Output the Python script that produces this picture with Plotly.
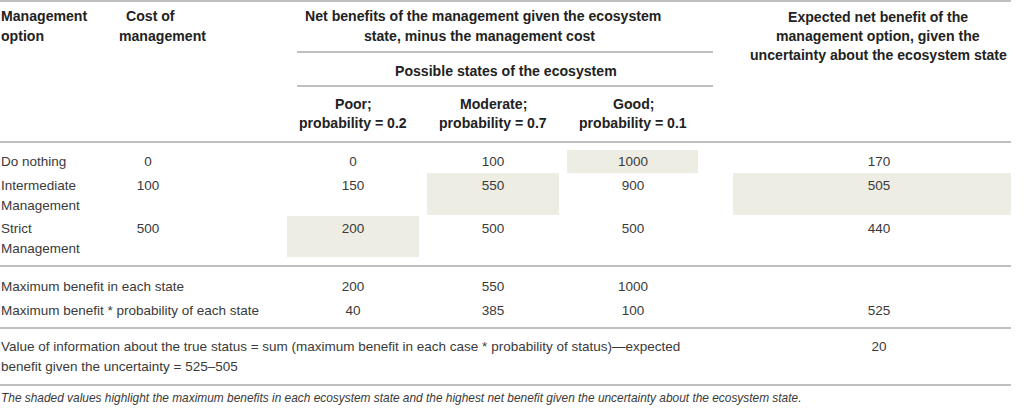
import plotly.graph_objects as go

# %% table values
option_lines = [["Do nothing"], ["Intermediate", "Management"], ["Strict", "Management"]]
cost = [0, 100, 500]
poor = [0, 150, 200]
moderate = [100, 550, 500]
good = [1000, 900, 500]
expected = [170, 505, 440]
max_benefit = [200, 550, 1000]
max_weighted = [40, 385, 100]
max_weighted_total = 525
value_of_info = 20
state_names = ["Poor;", "Moderate;", "Good;"]
state_probs = ["probability = 0.2", "probability = 0.7", "probability = 0.1"]
# shaded cells: (row, column)
highlight = [(0, "good"), (1, "moderate"), (1, "expected"), (2, "poor")]

# %% layout (pixel grid)
W, H = 1023, 408
RIGHT = 1011
col_x = {"cost": 148, "poor": 353, "moderate": 493, "good": 633, "expected": 879}
shade_x = {"poor": (287, 419), "moderate": (427, 559), "good": (567, 698), "expected": (733, 1011)}
row_y = [161, 185, 228]
row_box = [(150, 173), (173, 215), (216, 257)]
FONT = "Liberation Sans, Arial, sans-serif"
TXT = "#3a3a3a"
HDR = "#222222"
LINE = "#aaaaaa"
SHADE = "#edede3"
FS = 13.5
FSB = 14.1
DY = 2  # scatter text sits a bit higher than annotations

fig = go.Figure()

def cells(xs, ys, vals):
    fig.add_trace(go.Scatter(x=xs, y=[y + DY for y in ys], text=[str(v) for v in vals], mode="text",
                             textposition="middle center",
                             textfont=dict(family=FONT, size=FS, color=TXT),
                             hoverinfo="skip", showlegend=False))

cells([col_x["cost"]] * 3, row_y, cost)
cells([col_x["poor"]] * 3, row_y, poor)
cells([col_x["moderate"]] * 3, row_y, moderate)
cells([col_x["good"]] * 3, row_y, good)
cells([col_x["expected"]] * 3, row_y, expected)
cells([col_x["poor"], col_x["moderate"], col_x["good"]], [286] * 3, max_benefit)
cells([col_x["poor"], col_x["moderate"], col_x["good"], col_x["expected"]], [310] * 4,
      max_weighted + [max_weighted_total])
cells([col_x["expected"]], [346], [value_of_info])

shapes = []
for r, c in highlight:
    x0, x1 = shade_x[c]
    y0, y1 = row_box[r]
    shapes.append(dict(type="rect", xref="x", yref="y", x0=x0, x1=x1, y0=y0, y1=y1,
                       fillcolor=SHADE, line_width=0, layer="below"))
for y, x0, x1 in [(1, 0, RIGHT), (52, 297, 713), (86, 297, 713), (142, 0, RIGHT),
                  (266, 0, RIGHT), (328, 0, RIGHT), (385, 0, RIGHT)]:
    shapes.append(dict(type="line", xref="x", yref="y", x0=x0, x1=x1, y0=y, y1=y,
                       line=dict(color=LINE, width=1.5)))

ann = []

def label(x, y, s, anchor="left", bold=False, italic=False, size=FS, color=TXT):
    if bold:
        s = "<b>" + s + "</b>"
    if italic:
        s = "<i>" + s + "</i>"
    ann.append(dict(x=x, y=y, xref="x", yref="y", text=s, showarrow=False,
                    xanchor=anchor, yanchor="middle", borderpad=0,
                    font=dict(family=FONT, size=size, color=color)))

# header
label(0, 16, "Management", bold=True, size=FSB, color=HDR)
label(0, 36, "option", bold=True, size=FSB, color=HDR)
label(125, 16, "Cost of", bold=True, size=FSB, color=HDR)
label(118, 36, "management", bold=True, size=FSB, color=HDR)
label(483, 16, "Net benefits of the management given the ecosystem", "center", bold=True, size=FSB, color=HDR)
label(479, 36, "state, minus the management cost", "center", bold=True, size=FSB, color=HDR)
label(506, 71, "Possible states of the ecosystem", "center", bold=True, size=FSB, color=HDR)
for c, nm, pr in zip(["poor", "moderate", "good"], state_names, state_probs):
    label(col_x[c], 104, nm, "center", bold=True, size=FSB, color=HDR)
    label(col_x[c], 123, pr, "center", bold=True, size=FSB, color=HDR)
for y, s in zip([17, 36, 55], ["Expected net benefit of the", "management option, given the",
                               "uncertainty about the ecosystem state"]):
    label(878, y, s, "center", bold=True, size=FSB, color=HDR)

# row labels
for lines, y in zip(option_lines, row_y):
    for i, s in enumerate(lines):
        label(0, y + 20 * i, s)
label(0, 286, "Maximum benefit in each state")
label(0, 310, "Maximum benefit * probability of each state")
label(0, 346, "Value of information about the true status = sum (maximum benefit in each case * probability of status)\u2014expected")
label(0, 366, "benefit given the uncertainty = 525\u2013505")
label(0, 398, "The shaded values highlight the maximum benefits in each ecosystem state and the highest net benefit given the uncertainty about the ecosystem state.",
      italic=True, size=11.9)

fig.update_layout(width=W, height=H, margin=dict(l=0, r=0, t=0, b=0),
                  plot_bgcolor="white", paper_bgcolor="white",
                  shapes=shapes, annotations=ann,
                  xaxis=dict(range=[0, W], visible=False, fixedrange=True),
                  yaxis=dict(range=[H, 0], visible=False, fixedrange=True))

fig.write_html("out.html", config={"displayModeBar": False},
               post_script="document.body.style.margin='0';")
